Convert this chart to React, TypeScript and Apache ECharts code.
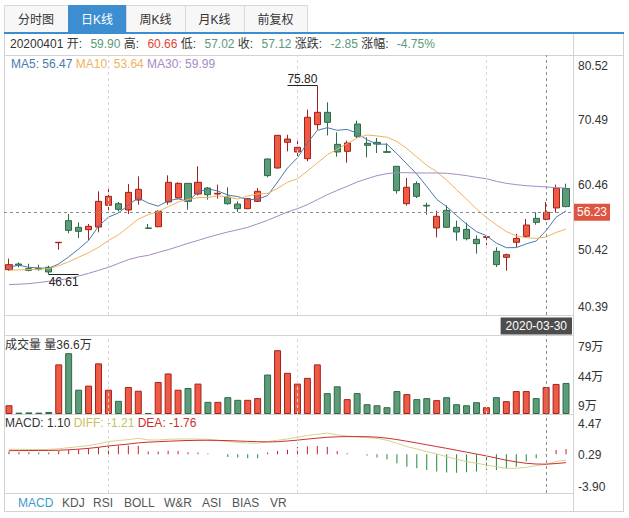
import React, { useEffect, useRef } from "react";
import * as echarts from "echarts";

const dates = [
  "2020-01-06","2020-01-07","2020-01-08","2020-01-09","2020-01-10","2020-01-13","2020-01-14","2020-01-15","2020-01-16","2020-01-17",
  "2020-01-20","2020-01-21","2020-01-22","2020-01-23","2020-02-03","2020-02-04","2020-02-05","2020-02-06","2020-02-07","2020-02-10",
  "2020-02-11","2020-02-12","2020-02-13","2020-02-14","2020-02-17","2020-02-18","2020-02-19","2020-02-20","2020-02-21","2020-02-24",
  "2020-02-25","2020-02-26","2020-02-27","2020-02-28","2020-03-02","2020-03-03","2020-03-04","2020-03-05","2020-03-06","2020-03-09",
  "2020-03-10","2020-03-11","2020-03-12","2020-03-13","2020-03-16","2020-03-17","2020-03-18","2020-03-19","2020-03-20","2020-03-23",
  "2020-03-24","2020-03-25","2020-03-26","2020-03-27","2020-03-30","2020-03-31","2020-04-01",
];
const opens = [47.39,48.26,47.54,47.59,47.75,51.55,54.95,53.92,53.56,53.97,57.32,57.57,56.60,58.14,53.82,54.02,57.83,58.45,60.71,59.07,59.99,59.07,58.60,57.52,56.80,57.93,64.47,63.08,67.04,65.55,64.52,69.77,71.67,66.73,65.65,69.87,66.89,67.04,65.60,63.34,57.57,60.66,57.32,53.82,56.55,53.92,53.61,52.07,52.38,50.22,49.29,51.61,52.53,55.31,55.16,56.91,59.90];
const closes = [48.16,48.06,47.28,47.44,47.03,51.61,53.46,53.30,54.08,57.93,58.71,56.70,59.32,59.79,53.77,56.39,60.87,60.71,57.93,60.87,58.96,59.17,57.57,56.80,58.35,59.48,61.90,68.12,67.55,66.27,70.90,71.67,70.13,65.55,66.94,67.97,66.58,66.78,65.50,59.58,60.10,58.71,57.21,55.62,53.92,53.20,52.17,51.40,52.48,48.16,49.70,52.22,54.28,54.69,56.24,59.97,57.12];
const highs = [49.09,48.52,48.31,48.16,48.00,51.66,55.98,54.69,54.44,59.48,60.10,57.83,60.61,61.79,54.44,56.55,61.95,60.87,60.71,63.34,60.15,60.51,60.10,57.93,58.45,59.99,64.52,68.17,68.22,67.30,72.08,75.80,73.21,68.58,67.30,70.38,67.81,67.71,66.89,63.34,61.53,61.02,57.73,56.49,57.32,54.95,54.64,52.69,52.64,50.84,49.86,52.94,55.21,56.24,57.83,60.51,60.66];
const lows = [47.23,47.75,47.13,47.23,46.61,50.47,53.00,52.27,51.91,53.15,56.49,56.39,55.98,57.42,53.72,53.92,57.42,58.35,56.65,58.86,58.19,58.35,57.42,56.29,56.75,57.83,61.64,62.98,65.65,64.88,64.11,69.00,68.12,64.83,63.90,67.71,64.73,65.39,65.39,59.12,57.27,58.45,55.88,52.38,53.82,51.86,51.91,49.86,51.14,47.80,47.23,50.89,52.27,54.33,55.00,56.20,57.02];
const ma5 = [47.80,48.06,47.75,47.65,47.59,48.28,49.36,50.57,51.90,54.08,55.50,56.14,57.35,58.49,57.66,57.19,58.03,58.31,57.93,59.35,59.87,59.53,58.90,58.67,58.17,58.27,58.82,60.93,63.08,64.66,66.95,68.90,69.30,68.90,69.04,68.45,67.43,66.76,66.75,65.28,63.71,62.13,60.22,58.24,57.11,55.73,54.42,53.26,52.63,51.48,50.78,50.79,51.37,51.81,53.43,55.48,56.47];
const ma10 = [47.30,47.35,47.40,47.45,47.55,48.00,48.60,49.30,50.00,50.84,51.89,52.75,53.96,55.19,55.87,56.35,57.09,57.83,58.21,58.51,58.53,58.78,58.60,58.30,58.76,59.07,59.17,59.92,60.88,61.42,62.61,63.86,65.12,65.99,66.85,67.70,68.17,68.03,67.83,67.16,66.08,64.78,63.49,62.50,61.20,59.72,58.28,56.74,55.44,54.30,53.26,52.61,52.32,52.22,52.45,53.13,53.64];
const ma30 = [45.07,45.15,45.23,45.40,45.59,45.80,46.00,46.40,46.82,47.28,47.75,48.35,48.93,49.34,49.60,50.05,50.47,50.95,51.45,51.90,52.38,52.80,53.20,53.55,53.92,54.45,55.00,55.65,56.29,56.80,57.42,58.19,58.96,59.63,60.25,60.92,61.43,61.90,62.21,62.36,62.36,62.31,62.31,62.31,62.26,62.10,61.90,61.64,61.43,61.02,60.71,60.51,60.35,60.25,60.15,60.04,59.99];
// volume in 万 (10k shares)
const volumes = [10.3,1.6,1.9,1.6,2.4,58.4,71.6,28.6,33.4,59.6,28.6,15.5,31.8,27.4,1.2,37.7,47.7,28.6,30.6,35.8,14.3,14.3,19.8,16.7,16.7,18.7,46.5,75.1,48.5,35.8,42.5,58.4,24.6,32.6,17.5,24.6,11.5,10.3,8.0,27.0,23.4,17.5,18.7,16.3,19.8,11.5,10.3,13.9,8.0,19.8,15.1,27.0,27.0,18.7,31.8,35.4,36.6];
const macdHist = [0.56,0.42,0.42,0.38,0.38,0.70,0.91,1.05,1.26,1.47,1.68,1.82,1.82,1.82,0.56,0.56,0.77,0.70,0.42,0.35,0.14,0.02,-0.56,-0.70,-0.84,-0.84,0.35,0.70,0.98,1.54,1.68,1.75,1.61,0.70,0.21,0.03,-0.28,-0.70,-1.05,-1.89,-2.60,-2.95,-3.30,-3.65,-3.86,-3.90,-3.79,-3.65,-3.30,-3.30,-2.95,-2.60,-1.54,-0.84,-0.14,0.91,1.10];
const diff = [1.05,1.04,1.02,1.02,1.03,1.15,1.40,1.60,1.82,2.20,2.67,2.90,3.09,3.37,3.02,3.00,3.16,3.20,3.23,3.22,3.16,2.95,2.67,2.50,2.39,2.32,2.67,2.95,3.23,3.60,3.93,4.21,4.47,4.07,3.86,3.65,3.51,3.37,2.95,2.32,1.61,1.12,0.56,0.07,-0.49,-1.05,-1.54,-1.89,-2.25,-2.60,-2.95,-2.95,-2.74,-2.39,-2.11,-1.54,-1.21];
const dea = [0.77,0.78,0.79,0.80,0.81,0.85,0.95,1.08,1.25,1.48,1.75,1.95,2.15,2.40,2.55,2.65,2.75,2.83,2.90,2.94,2.95,2.92,2.88,2.80,2.72,2.66,2.60,2.65,2.80,2.98,3.20,3.40,3.58,3.68,3.72,3.72,3.70,3.60,3.40,3.10,2.75,2.38,2.00,1.62,1.25,0.85,0.45,0.05,-0.35,-0.80,-1.25,-1.60,-1.90,-2.05,-2.08,-1.95,-1.76];

const priceTicks = [40.39, 50.42, 60.46, 70.49, 80.52];
const volumeTicks = [9, 44, 79];
const macdTicks = [-3.9, 0.29, 4.47];
const tabs = ["分时图", "日K线", "周K线", "月K线", "前复权"];
const activeTab = 1;
const indicatorTabs = ["MACD", "KDJ", "RSI", "BOLL", "W&R", "ASI", "BIAS", "VR"];
const gridMarks = [10, 29, 48];
const cursorIndex = 54;
const cursorPrice = 56.23;

const FONT = '"Liberation Sans", "Noto Sans CJK SC", sans-serif';
const RED_FILL = "#ee5a43";
const RED_EDGE = "#a3201b";
const GREEN_FILL = "#5c9c79";
const GREEN_EDGE = "#2c6a45";
const TXT_RED = "#e0453a";
const TXT_GREEN = "#5a9a78";
const LINE = "#d3d3d3";

const tabEdges = [4, 68, 126, 185, 244, 307];
const indicatorX = [18, 62, 93, 124, 164, 202, 232, 270];

export default function App() {
  const ref = useRef<HTMLDivElement>(null);
  useEffect(() => {
    const chart = echarts.init(ref.current!, null, { renderer: "svg" });
    const n = dates.length;
    const last = n - 1;
    const isUp = (i: number) => closes[i] >= opens[i];
    const candle = dates.map((_, i) => [opens[i], closes[i], lows[i], highs[i]]);
    const hiVal = Math.max(...highs);
    const hiIdx = highs.indexOf(hiVal);
    const loVal = Math.min(...lows);
    const loIdx = lows.indexOf(loVal);
    const change = closes[last] - closes[last - 1];
    const pct = (change / closes[last - 1]) * 100;

    const vMarks = (extra: any[] = []) => ({
      silent: true,
      symbol: ["none", "none"],
      label: { show: false },
      emphasis: { disabled: true },
      data: [
        ...gridMarks.map((i) => ({ xAxis: i, lineStyle: { color: "#d6d6d6", type: [3, 3], width: 1 } })),
        { xAxis: cursorIndex, lineStyle: { color: "#8c8c8c", type: [3, 3], width: 1 } },
        ...extra,
      ],
    });

    const graphics: any[] = [];
    // tabs
    tabs.forEach((t, i) => {
      const x0 = tabEdges[i];
      const x1 = tabEdges[i + 1];
      const act = i === activeTab;
      graphics.push({
        type: "rect",
        shape: { x: x0 + 0.5, y: 5.5, width: x1 - x0, height: 27 },
        style: { fill: act ? "#3c8ed0" : "#f7f7f7", stroke: act ? "#3c8ed0" : "#d8d8d8", lineWidth: 1 },
      });
      graphics.push({
        type: "text",
        style: {
          text: t, x: (x0 + x1) / 2, y: 19.5, align: "center", verticalAlign: "middle",
          fill: act ? "#ffffff" : "#333333", fontSize: 12, fontFamily: FONT,
        },
      });
    });
    graphics.push({ type: "rect", shape: { x: 4, y: 32, width: 620, height: 2 }, style: { fill: "#3c8ed0" } });
    // frame lines
    const hl = (y: number, x1: number, x2: number) =>
      graphics.push({ type: "line", shape: { x1, y1: y + 0.5, x2, y2: y + 0.5 }, style: { stroke: LINE, lineWidth: 1 } });
    const vl = (x: number, y1: number, y2: number) =>
      graphics.push({ type: "line", shape: { x1: x + 0.5, y1, x2: x + 0.5, y2 }, style: { stroke: LINE, lineWidth: 1 } });
    vl(4, 34, 512);
    vl(623, 34, 512);
    vl(573, 34, 512);
    hl(55, 4, 624);
    hl(315, 4, 573);
    hl(335, 4, 573);
    hl(414, 4, 573);
    hl(493, 4, 573);
    hl(511, 4, 624);

    const f2 = (v: number) => v.toFixed(2);
    const richBase = (c: string) => ({ fill: c, fontSize: 12, fontFamily: FONT });
    const richVal = (c: string) => ({ fill: c, fontSize: 12, fontFamily: FONT, padding: [0, 0, 0, 5] });
    const ds = dates[last].replace(/-/g, "");
    graphics.push({
      type: "text",
      style: {
        x: 10, y: 44, verticalAlign: "middle", fontSize: 12, fontFamily: FONT,
        text:
          `{k|${ds} 开: }{${closes[last] >= opens[last] ? "r" : "g"}|${f2(opens[last])}}{k| 高: }{r|${f2(highs[last])}}` +
          `{k| 低: }{g|${f2(lows[last])}}{k| 收: }{g|${f2(closes[last])}}{k| 涨跌: }{g|${f2(change)}}{k| 涨幅: }{g|${pct.toFixed(2)}%}`,
        rich: { k: richBase("#333333"), r: richVal(TXT_RED), g: richVal(TXT_GREEN) },
      },
    });
    graphics.push({
      type: "text",
      style: {
        x: 11, y: 64, verticalAlign: "middle", fontSize: 12, fontFamily: FONT,
        text: `{a|MA5: ${f2(ma5[last])}} {b|MA10: ${f2(ma10[last])}} {c|MA30: ${f2(ma30[last])}}`,
        rich: { a: richBase("#4a7bab"), b: richBase("#efb25e"), c: richBase("#a68ac3") },
      },
    });
    graphics.push({
      type: "text",
      style: {
        x: 5, y: 345, verticalAlign: "middle", fontSize: 12, fontFamily: FONT, fill: "#333",
        text: `成交量 量${volumes[last].toFixed(1)}万`,
      },
    });
    graphics.push({
      type: "text",
      style: {
        x: 5, y: 423, verticalAlign: "middle", fontSize: 12, fontFamily: FONT,
        text: `{k|MACD: ${f2(macdHist[last])}} {d|DIFF: ${f2(diff[last])}} {e|DEA: ${f2(dea[last])}}`,
        rich: { k: richBase("#333333"), d: richBase("#c9c25c"), e: richBase("#c9302c") },
      },
    });
    graphics.push({
      type: "text",
      style: {
        x: 572, y: 326, align: "right", verticalAlign: "middle", fontSize: 12, fontFamily: FONT,
        text: dates[cursorIndex], fill: "#ffffff", backgroundColor: "#4d4d4d", padding: [3, 5, 2, 5],
      },
    });
    indicatorTabs.forEach((t, i) => {
      graphics.push({
        type: "text",
        style: {
          x: indicatorX[i], y: 502.5, verticalAlign: "middle", fontSize: 12, fontFamily: FONT,
          text: t, fill: i === 0 ? "#3a9ccc" : "#555555",
        },
      });
    });

    const axisLabelBase = { color: "#333", fontSize: 12, fontFamily: FONT, margin: 7 };
    const pMax = priceTicks[priceTicks.length - 1];
    const pMin = priceTicks[0];

    const option: any = {
      animation: false,
      textStyle: { fontFamily: FONT },
      grid: [
        { left: 4, top: 55, width: 567, height: 260 },
        { left: 4, top: 335, width: 567, height: 79 },
        { left: 4, top: 414, width: 567, height: 79 },
      ],
      xAxis: [0, 1, 2].map((g) => ({ type: "category", gridIndex: g, data: dates, show: false })),
      yAxis: [
        {
          gridIndex: 0, type: "value", min: pMin, max: pMax, position: "right",
          axisLine: { show: false }, axisTick: { show: false }, splitLine: { show: false },
          axisLabel: {
            ...axisLabelBase, customValues: priceTicks,
            formatter: (v: number) => {
              const s = v.toFixed(2);
              if (Math.abs(v - pMax) < 1e-6) return `{t|${s}}`;
              if (Math.abs(v - pMin) < 1e-6) return `{b|${s}}`;
              return `{m|${s}}`;
            },
            rich: {
              t: { fontSize: 12, fontFamily: FONT, color: "#333", padding: [22, 0, 0, 0] },
              b: { fontSize: 12, fontFamily: FONT, color: "#333", padding: [0, 0, 16, 0] },
              m: { fontSize: 12, fontFamily: FONT, color: "#333" },
            },
          },
        },
        {
          gridIndex: 1, type: "value", min: 0, max: 93, position: "right",
          axisLine: { show: false }, axisTick: { show: false }, splitLine: { show: false },
          axisLabel: { ...axisLabelBase, customValues: volumeTicks, formatter: (v: number) => `${v}万` },
        },
        {
          gridIndex: 2, type: "value", min: -8.15, max: 8.48, position: "right",
          axisLine: { show: false }, axisTick: { show: false }, splitLine: { show: false }, axisLabel: { show: false },
        },
        {
          gridIndex: 2, type: "value", min: -4.74, max: 5.8, position: "right",
          axisLine: { show: false }, axisTick: { show: false }, splitLine: { show: false },
          axisLabel: { ...axisLabelBase, customValues: macdTicks, formatter: (v: number) => v.toFixed(2) },
        },
      ],
      series: [
        {
          type: "candlestick", xAxisIndex: 0, yAxisIndex: 0, data: candle, barWidth: "66%",
          itemStyle: { color: RED_FILL, color0: GREEN_FILL, borderColor: RED_EDGE, borderColor0: GREEN_EDGE, borderWidth: 1 },
          markLine: vMarks([
            {
              yAxis: cursorPrice,
              lineStyle: { color: "#8c8c8c", type: [3, 3], width: 1 },
              label: {
                show: true, position: "end", formatter: cursorPrice.toFixed(2), color: "#fff", fontSize: 12, fontFamily: FONT,
                backgroundColor: "#e0553f", padding: [3, 3, 2, 3], distance: 3,
              },
            },
            [
              {
                coord: [hiIdx - 3, hiVal], lineStyle: { color: "#222", type: "solid", width: 1 },
                label: { show: true, position: "insideMiddleTop", formatter: hiVal.toFixed(2), color: "#222", fontSize: 12, fontFamily: FONT, distance: 1 },
              },
              { coord: [hiIdx, hiVal] },
            ],
            [
              {
                coord: [loIdx, loVal], lineStyle: { color: "#222", type: "solid", width: 1 },
                label: { show: true, position: "insideMiddleBottom", formatter: loVal.toFixed(2), color: "#222", fontSize: 12, fontFamily: FONT, distance: 1 },
              },
              { coord: [loIdx + 3, loVal] },
            ],
          ]),
        },
        { type: "line", name: "MA5", xAxisIndex: 0, yAxisIndex: 0, data: ma5, symbol: "none", lineStyle: { color: "#4a7bab", width: 1 }, silent: true },
        { type: "line", name: "MA10", xAxisIndex: 0, yAxisIndex: 0, data: ma10, symbol: "none", lineStyle: { color: "#efb25e", width: 1 }, silent: true },
        { type: "line", name: "MA30", xAxisIndex: 0, yAxisIndex: 0, data: ma30, symbol: "none", lineStyle: { color: "#a68ac3", width: 1 }, silent: true },
        {
          type: "bar", xAxisIndex: 1, yAxisIndex: 1, barWidth: "70%",
          data: volumes.map((v, i) => ({
            value: v,
            itemStyle: { color: isUp(i) ? RED_FILL : GREEN_FILL, borderColor: isUp(i) ? RED_EDGE : GREEN_EDGE, borderWidth: 1 },
          })),
          markLine: vMarks(),
        },
        {
          type: "bar", xAxisIndex: 2, yAxisIndex: 2, barWidth: 1,
          data: macdHist.map((v) => ({ value: v, itemStyle: { color: v >= 0 ? "#cc1f2c" : "#1c8a32" } })),
          markLine: vMarks(),
        },
        { type: "line", name: "DIFF", xAxisIndex: 2, yAxisIndex: 2, data: diff, symbol: "none", lineStyle: { color: "#d8cf92", width: 1 }, silent: true },
        { type: "line", name: "DEA", xAxisIndex: 2, yAxisIndex: 2, data: dea, symbol: "none", lineStyle: { color: "#c9302c", width: 1 }, silent: true },
      ],
      graphic: graphics,
    };
    chart.setOption(option);
    return () => chart.dispose();
  }, []);
  return (
    <div
      ref={ref}
      style={{ position: "fixed", left: 0, top: 0, width: 629, height: 518, background: "#ffffff" }}
    />
  );
}
